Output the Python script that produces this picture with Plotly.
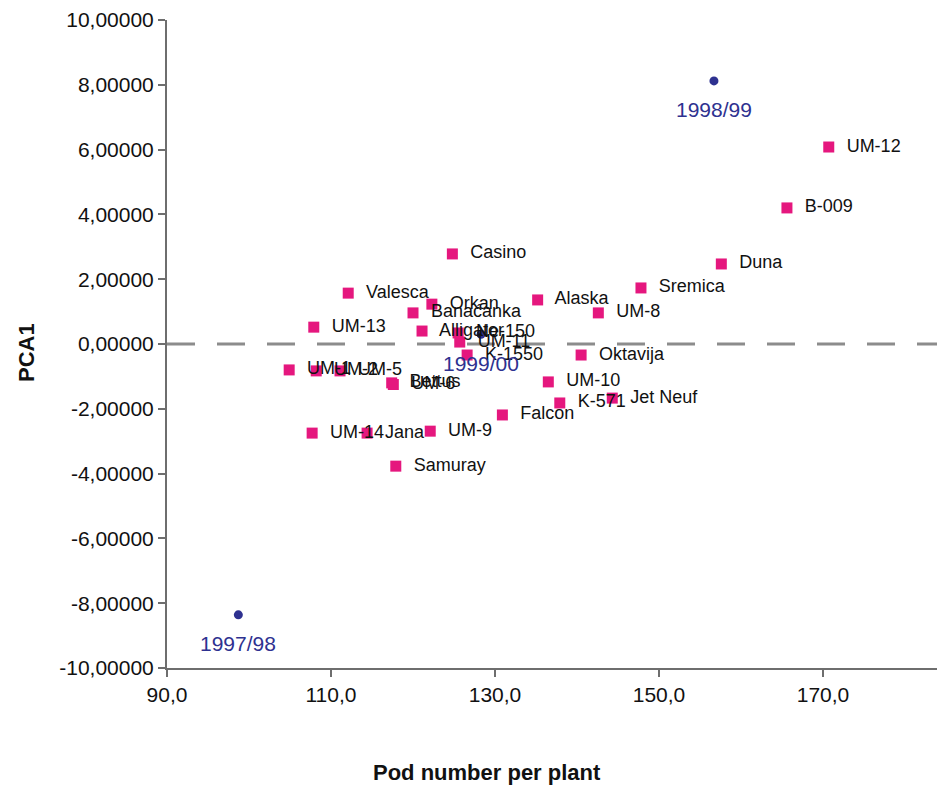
import plotly.graph_objects as go

# Cultivars (pink squares)
cultivars = ["UM-12", "B-009", "Duna", "Sremica", "Alaska", "UM-8", "Casino", "Valesca",
             "Orkan", "Banaćanka", "UM-13", "Alligator", "Ne-150", "UM-11", "K-1550",
             "Oktavija", "UM-10", "K-571", "Jet Neuf", "Falcon", "UM-1", "UM-2", "UM-5",
             "Bettus", "UM-6", "UM-14", "Jana", "UM-9", "Samuray"]
pod_number = [170.7, 165.6, 157.6, 147.8, 135.2, 142.6, 124.8, 112.1,
              122.3, 120.0, 107.9, 121.1, 125.5, 125.7, 126.6,
              140.5, 136.5, 137.9, 144.3, 130.9, 104.9, 108.2, 111.1,
              117.4, 117.6, 107.7, 114.4, 122.1, 117.9]
pca1 = [6.08, 4.20, 2.47, 1.73, 1.36, 0.96, 2.78, 1.57,
        1.23, 0.96, 0.52, 0.40, 0.34, 0.06, -0.34,
        -0.34, -1.17, -1.82, -1.67, -2.19, -0.80, -0.83, -0.83,
        -1.20, -1.25, -2.75, -2.75, -2.69, -3.77]

# Seasons (blue circles)
seasons = ["1998/99", "1997/98", "1999/00"]
season_pod = [156.7, 98.7, 128.3]
season_pca1 = [8.12, -8.36, 0.30]

# Axis ticks
y_ticks = [10, 8, 6, 4, 2, 0, -2, -4, -6, -8, -10]
y_tick_labels = ["10,00000", "8,00000", "6,00000", "4,00000", "2,00000", "0,00000",
                 "-2,00000", "-4,00000", "-6,00000", "-8,00000", "-10,00000"]
x_ticks = [90, 110, 130, 150, 170]
x_tick_labels = ["90,0", "110,0", "130,0", "150,0", "170,0"]

font = "Arial, Liberation Sans, sans-serif"
pink = "#E5177E"
navy = "#2E3190"

fig = go.Figure()

fig.add_trace(go.Scatter(
    x=season_pod, y=season_pca1, mode="markers",
    marker=dict(symbol="circle", size=9, color=navy),
    cliponaxis=False, showlegend=False,
))

fig.add_trace(go.Scatter(
    x=pod_number, y=pca1, mode="markers+text",
    text=["  " + c for c in cultivars], textposition="middle right",
    marker=dict(symbol="square", size=11, color=pink),
    textfont=dict(family=font, size=18, color="#111111"),
    cliponaxis=False, showlegend=False,
))

fig.add_shape(type="line", xref="paper", x0=0, x1=1, yref="y", y0=0, y1=0,
              line=dict(color="#8C8C8C", width=3, dash="28px,22px"), layer="below")

annotations = [
    dict(x=sx, y=sy, text=s, showarrow=False, xanchor="center", yanchor="middle",
         yshift=-29, font=dict(family=font, size=21, color=navy))
    for s, sx, sy in zip(seasons, season_pod, season_pca1)
]
annotations += [
    dict(text="<b>Pod number per plant</b>", xref="paper", yref="paper",
         x=(487 - 167) / 770, y=-(772 - 668) / 648, showarrow=False,
         xanchor="center", yanchor="middle",
         font=dict(family=font, size=22, color="#111111")),
    dict(text="<b>PCA1</b>", xref="paper", yref="paper",
         x=-(167 - 27) / 770, y=(668 - 353) / 648, showarrow=False, textangle=-90,
         xanchor="center", yanchor="middle",
         font=dict(family=font, size=22, color="#111111")),
]

fig.update_layout(
    width=937, height=786,
    margin=dict(l=167, r=0, t=20, b=118),
    paper_bgcolor="white", plot_bgcolor="white",
    font=dict(family=font, color="#111111"),
    xaxis=dict(range=[90, 183.9], tickvals=x_ticks, ticktext=x_tick_labels,
               showgrid=False, zeroline=False, showline=True, linecolor="#6E6E6E",
               linewidth=2, ticks="outside", ticklen=7, tickwidth=2, tickcolor="#6E6E6E",
               tickfont=dict(family=font, size=21, color="#111111")),
    yaxis=dict(range=[-10, 10], tickvals=y_ticks, ticktext=y_tick_labels,
               showgrid=False, zeroline=False, showline=True, linecolor="#6E6E6E",
               linewidth=2, ticks="outside", ticklen=7, tickwidth=2, tickcolor="#6E6E6E",
               tickfont=dict(family=font, size=21, color="#111111")),
    annotations=annotations,
)

fig.write_html("out.html", config={"displayModeBar": False},
               post_script="document.body.style.margin='0';document.body.style.overflow='hidden';")
